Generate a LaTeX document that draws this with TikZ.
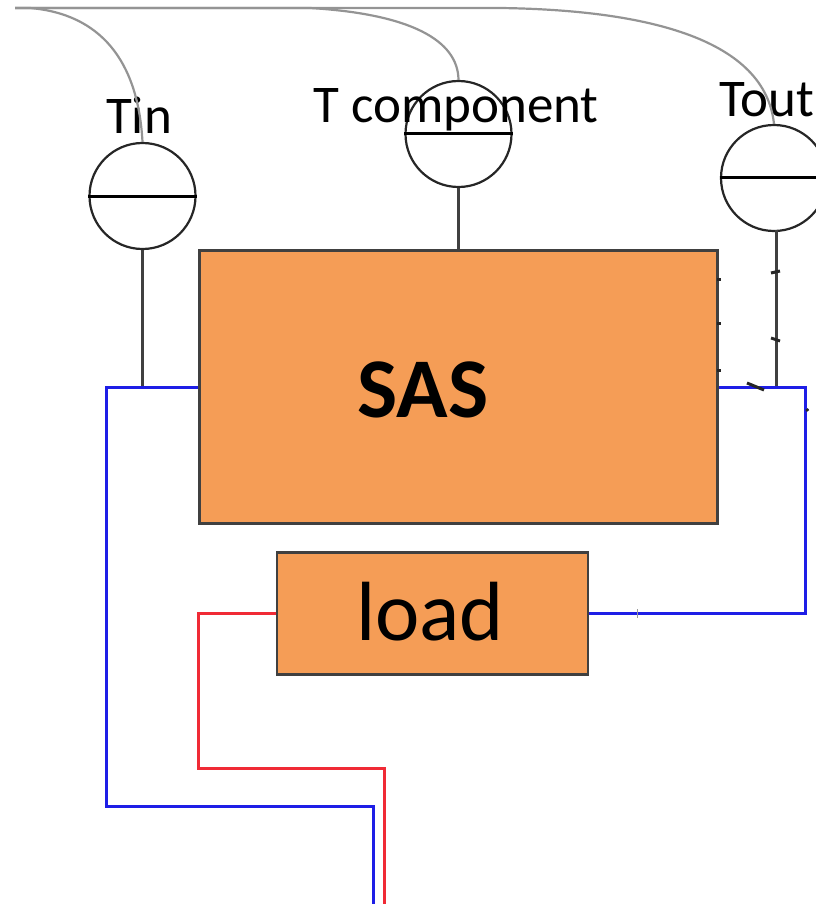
\documentclass[tikz,border=0pt]{standalone}
\usepackage{fontspec}
\setmainfont{Carlito}
\definecolor{boxfill}{HTML}{F59D56}
\definecolor{wireblue}{HTML}{1E1EE6}
\definecolor{wirered}{HTML}{F02A35}
\begin{document}
\begin{tikzpicture}[x=1pt,y=-1pt,
  gauge/.style={circle,draw=black!85,line width=2.2pt,minimum size=106pt,inner sep=0pt,fill=white},
  block/.style={draw=black!75,line width=2.6pt,fill=boxfill,inner sep=0pt},
  stem/.style={draw=black!75,line width=2.6pt},
  sense/.style={draw=black!42,line width=2.2pt},
  bluewire/.style={draw=wireblue,line width=2.6pt},
  redwire/.style={draw=wirered,line width=2.6pt},
  bar/.style={draw=black,line width=3pt},
  nick/.style={draw=black!85,line width=3pt},
  lab/.style={inner sep=0pt,font=\fontsize{53}{58}\selectfont}]
\useasboundingbox (0,0) rectangle (815,904);
\node[block,minimum width=518pt,minimum height=273pt] (sas) at (458.5,387) {};
\node[inner sep=0pt,font=\fontsize{85}{95}\selectfont\bfseries] (sastext) at (423,390) {SAS};
\node[block,minimum width=311pt,minimum height=122pt] (load) at (432.5,613.5) {};
\node[inner sep=0pt,font=\fontsize{84}{95}\selectfont] (loadtext) at (430,612) {load};
\coordinate (corner) at (15,8);
\coordinate (inj) at (142.5,387.5);
\coordinate (outj) at (776.5,387.5);
\coordinate (outtop) at (776.5,230);
\node[gauge] (tin) at (142.5,196) {};
\node[gauge] (tcomp) at (458.5,134) {};
\node[gauge] (tout) at (774,178) {};
\draw[bar] (tin.west) -- (tin.east);
\draw[bar] (tcomp.west) -- (tcomp.east);
\draw[bar] (tout.west) -- (tout.east);
\node[lab] (tinl) at (139,115) {Tin};
\node[lab] (tcompl) at (456,110) {T component};
\node[lab] (toutl) at (767,100) {Tout};
\draw[sense] (corner) -- (30,8) .. controls (100,14) and (138,60) .. (tin.north);
\draw[sense] (corner) -- (310,8) .. controls (410,14) and (458,40) .. (tcomp.north);
\draw[sense] (corner) -- (500,8) .. controls (650,10) and (765,40) .. (tout.north);
\draw[stem] (tin.south) -- (inj);
\draw[stem] (tcomp.south) -- (sas.north -| tcomp);
\draw[stem] (outtop) -- (outj);
\draw[bluewire] (sas.west |- inj) -- (106.5,387.5) -- (106.5,806.5) -- (373.5,806.5) -- (373.5,904);
\draw[bluewire] (sas.east |- outj) -- (805.5,387.5) -- (805.5,613.5) -- (load.east);
\draw[redwire] (load.west) -- (198.5,613.5) -- (198.5,768.5) -- (384.5,768.5) -- (384.5,904);
\draw[nick] (771,273) -- (780,271);
\draw[nick] (771,338) -- (780,341);
\draw[nick] (747,383) -- (764,390);
\draw[nick] (717,279) -- (721,279);
\draw[nick] (717,323) -- (721,323);
\draw[nick] (717,370) -- (721,370);
\draw[nick] (806.5,409) -- (808,411);
\draw[draw=black!40,line width=1pt] (637,609) -- (637,618);
\end{tikzpicture}
\end{document}
